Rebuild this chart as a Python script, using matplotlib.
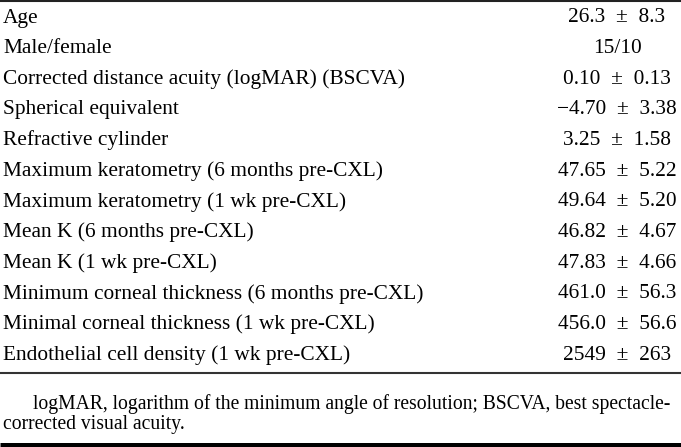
#!/usr/bin/env python3
"""Baseline characteristics table rendered as a figure."""

import matplotlib

matplotlib.use("Agg")
import matplotlib.pyplot as plt
from matplotlib.lines import Line2D

W, H = 681, 447

labels = [
    "Age",
    "Male/female",
    "Corrected distance acuity (logMAR) (BSCVA)",
    "Spherical equivalent",
    "Refractive cylinder",
    "Maximum keratometry (6 months pre-CXL)",
    "Maximum keratometry (1 wk pre-CXL)",
    "Mean K (6 months pre-CXL)",
    "Mean K (1 wk pre-CXL)",
    "Minimum corneal thickness (6 months pre-CXL)",
    "Minimal corneal thickness (1 wk pre-CXL)",
    "Endothelial cell density (1 wk pre-CXL)",
]
means = ["26.3", None, "0.10", "\u22124.70", "3.25", "47.65", "49.64",
         "46.82", "47.83", "461.0", "456.0", "2549"]
sds = ["8.3", None, "0.13", "3.38", "1.58", "5.22", "5.20",
       "4.67", "4.66", "56.3", "56.6", "263"]
plain_values = {1: "15/10"}
footnote = [
    "logMAR, logarithm of the minimum angle of resolution; BSCVA, best spectacle-",
    "corrected visual acuity.",
]

plt.rcParams["font.family"] = "serif"
plt.rcParams["font.serif"] = ["Liberation Serif"]


def fx(x):
    return x / W


def fy(y):
    return 1 - y / H


def hline(fig, y, lw, color="black"):
    fig.add_artist(Line2D([0, 1], [fy(y), fy(y)], transform=fig.transFigure,
                          color=color, linewidth=lw, solid_capstyle="butt"))


fig = plt.figure(figsize=(W / 100, H / 100), dpi=100)

hline(fig, 1.0, 1.5, color="#222222")
row0, row_last = 18.0, 355.0
step = (row_last - row0) / (len(labels) - 1)
for i, lab in enumerate(labels):
    y = row0 + i * step
    fig.text(fx(3), fy(y), lab, fontsize=15.4, ha="left", va="center")
    if i in plain_values:
        val = plain_values[i]
    else:
        val = f"{means[i]}\u2002\u00b1\u2002{sds[i]}"
    fig.text(fx(617), fy(y), val, fontsize=15.4, ha="center", va="center")

hline(fig, 373.0, 1.5, color="#333333")
fig.text(fx(33), fy(404), footnote[0], fontsize=14.1, ha="left", va="center")
fig.text(fx(3), fy(424), footnote[1], fontsize=14.1, ha="left", va="center")
hline(fig, 444.5, 3.6)

fig.savefig("out.png", dpi=100)
